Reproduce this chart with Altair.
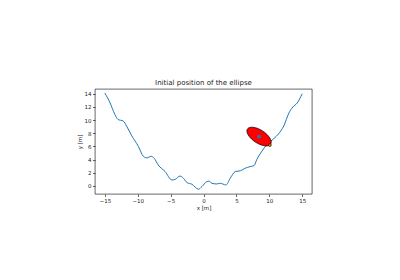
import altair as alt
import pandas as pd
import numpy as np

# Terrain curve
curve_x = [-15.0, -14.2, -13.5, -13.0, -12.2, -11.7, -10.9, -9.9, -9.15, -8.6, -8.0, -7.5,
           -6.9, -5.85, -4.8, -4.3, -3.55, -3.05, -2.5, -1.77, -0.76, -0.25, 0.5, 0.85,
           1.27, 2.0, 2.55, 3.4, 4.07, 4.83, 5.6, 6.36, 7.1, 7.7, 8.1, 8.9, 9.67, 10.07,
           10.7, 11.4, 12.2, 13.0, 13.6, 14.25, 15.0]
curve_y = [14.1, 12.6, 10.9, 10.1, 9.85, 9.1, 7.6, 6.0, 4.5, 4.26, 4.5, 4.2,
           3.2, 2.2, 0.9, 1.0, 1.5, 1.17, 0.5, 0.26, -0.5, -0.1, 0.65, 0.72,
           0.4, 0.3, 0.4, 0.15, 1.17, 2.18, 2.3, 2.7, 2.94, 3.1, 4.0, 5.3, 6.3, 6.65,
           7.2, 7.9, 9.1, 11.1, 12.0, 12.6, 14.0]

x_ticks = [-15, -10, -5, 0, 5, 10, 15]
y_ticks = [0, 2, 4, 6, 8, 10, 12, 14]

# Ellipse parameters (center, semi-axes, rotation in degrees)
ell_center = [8.45, 7.5]
ell_axes = [2.1, 1.0]
ell_angle = -33.0
contact_point = [10.1, 6.2]

curve = pd.DataFrame({"x": curve_x, "y": curve_y, "i": range(len(curve_x))})

t = np.linspace(0, 2 * np.pi, 121)
th = np.deg2rad(ell_angle)
ex = ell_center[0] + ell_axes[0] * np.cos(t) * np.cos(th) - ell_axes[1] * np.sin(t) * np.sin(th)
ey = ell_center[1] + ell_axes[0] * np.cos(t) * np.sin(th) + ell_axes[1] * np.sin(t) * np.cos(th)
ell = pd.DataFrame({"x": ex, "y": ey, "i": range(len(t))})

center_df = pd.DataFrame({"x": [ell_center[0]], "y": [ell_center[1]]})
contact_df = pd.DataFrame({"x": [contact_point[0]], "y": [contact_point[1]]})

xs = alt.Scale(domain=[-16.5, 16.5], nice=False, zero=False)
ys = alt.Scale(domain=[-1.225, 14.725], nice=False, zero=False)


def X():
    return alt.X("x:Q", scale=xs, axis=alt.Axis(values=x_ticks, title="x [m]", grid=False,
                                                labelOverlap=False, labelFlush=False))


def Y():
    return alt.Y("y:Q", scale=ys, axis=alt.Axis(values=y_ticks, title="y [m]", grid=False,
                                                labelOverlap=False, labelFlush=False))


line = alt.Chart(curve).mark_line(color="#1f77b4", strokeWidth=1, interpolate="monotone").encode(
    x=X(), y=Y(), order="i:Q",
)

ellipse = alt.Chart(ell).mark_line(fill="red", stroke="black", strokeWidth=0.8).encode(
    x=X(), y=Y(), order="i:Q",
)

center = alt.Chart(center_df).mark_point(filled=True, color="#1f77b4", size=14, opacity=1).encode(
    x=X(), y=Y()
)
contact = alt.Chart(contact_df).mark_point(filled=True, color="#ff7f0e", size=8, opacity=1,
                                           stroke="black", strokeWidth=0.6).encode(
    x=X(), y=Y()
)

chart = alt.layer(line, ellipse, center, contact).properties(
    width=217, height=105,
    background="white",
    title=alt.TitleParams("Initial position of the ellipse", fontSize=7, fontWeight="normal",
                          font="DejaVu Sans", color="#222222", offset=3),
    autosize=alt.AutoSizeParams(type="none"),
    padding={"left": 95, "top": 89, "right": 88, "bottom": 86},
).configure_view(stroke="black", strokeWidth=0.6).configure_axis(
    labelFontSize=5.5, titleFontSize=5.5, labelFont="DejaVu Sans", titleFont="DejaVu Sans",
    labelColor="#222222", titleColor="#222222", titleFontWeight="normal",
    tickColor="black", tickSize=2.5, tickWidth=0.6, domain=False, labelPadding=1.5, titlePadding=2,
    labelOverlap=False,
)

chart.save("out.html", embed_options={"renderer": "svg", "actions": False})
